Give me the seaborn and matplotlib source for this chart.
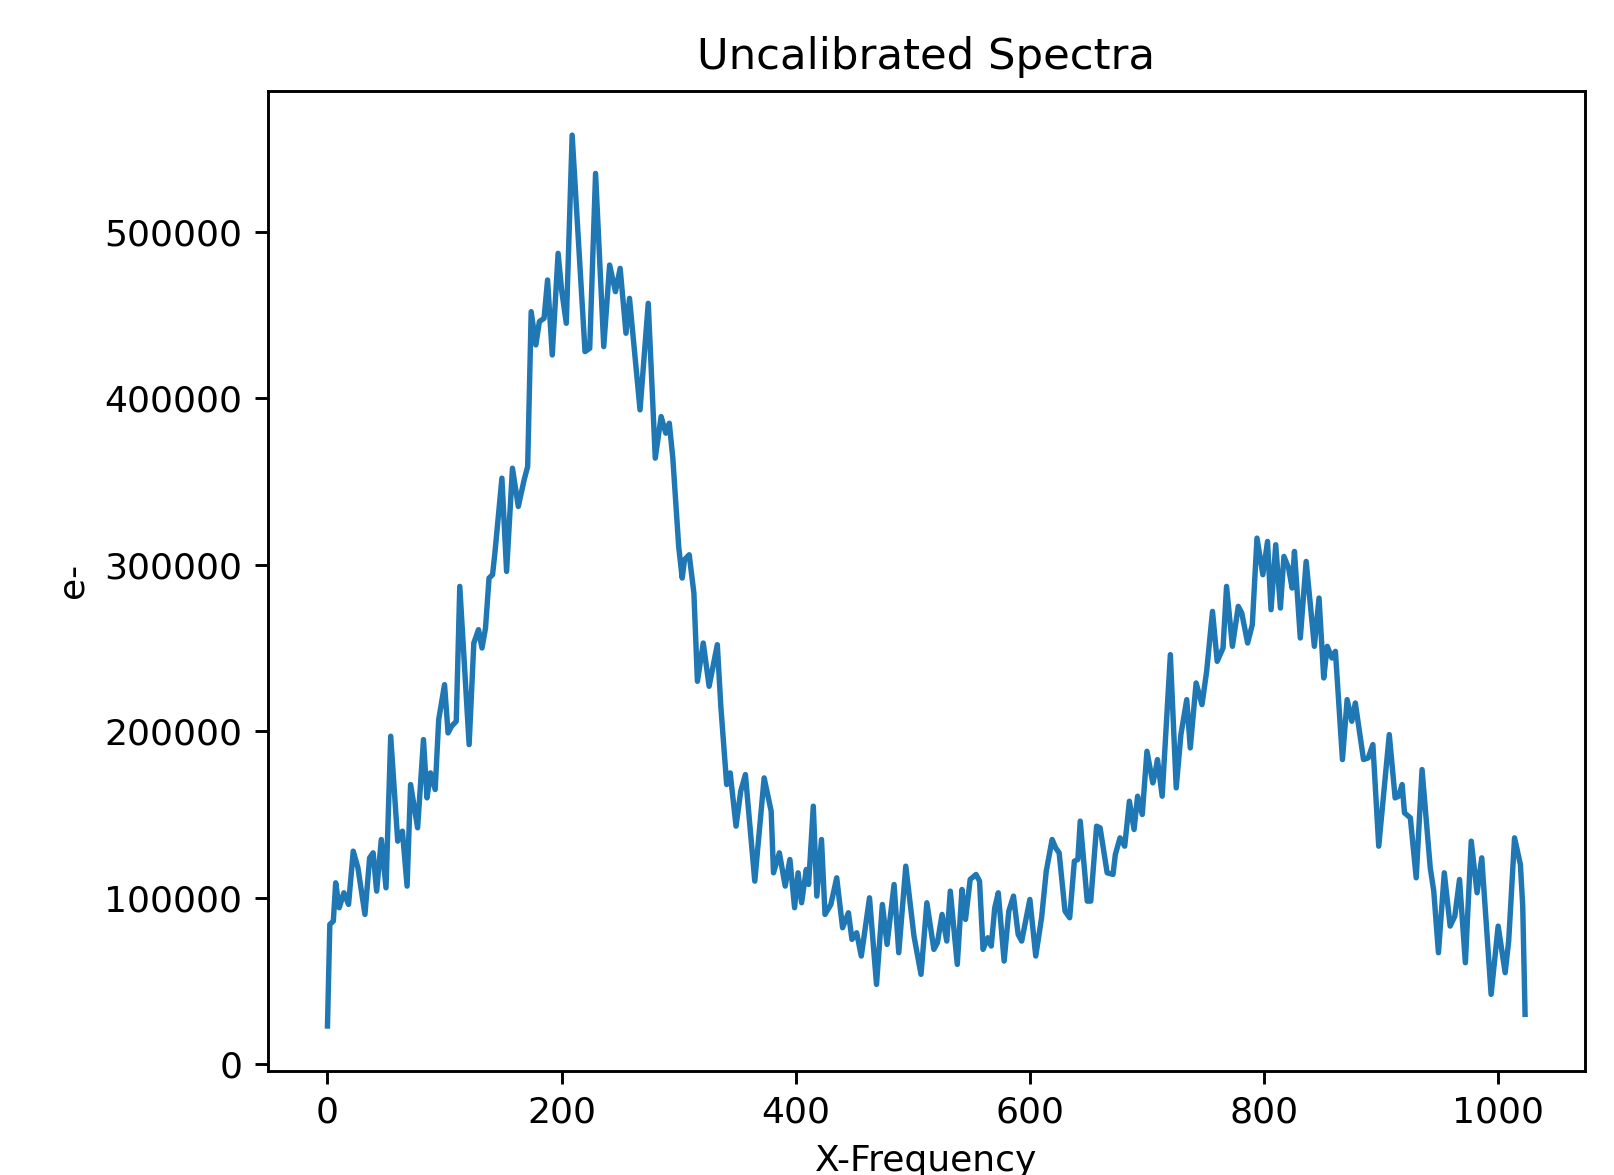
import matplotlib
matplotlib.use("Agg")
import matplotlib.pyplot as plt
import seaborn as sns
import pandas as pd

title = "Uncalibrated Spectra"
x_label = "X-Frequency"
y_label = "e-"

freq = [0, 2, 5, 7, 10, 14, 18, 22, 26, 32, 36, 39, 42, 46, 50, 54, 60, 64, 68, 71,
        77, 82, 85, 88, 92, 95, 100, 103, 106, 110, 113, 121, 125, 129, 132, 135, 138, 141, 143, 149,
        153, 158, 163, 168, 171, 174, 178, 181, 185, 188, 192, 197, 200, 204, 209, 220, 224, 229, 236, 241,
        246, 250, 255, 258, 267, 274, 280, 285, 289, 292, 295, 300, 303, 305, 309, 313, 316, 321, 326, 333,
        336, 341, 344, 349, 353, 357, 365, 373, 379, 381, 386, 391, 395, 399, 402, 405, 409, 411, 415, 418,
        422, 425, 430, 435, 440, 445, 448, 452, 456, 463, 469, 474, 478, 484, 488, 494, 501, 507, 512, 518,
        521, 525, 529, 532, 538, 542, 545, 549, 554, 557, 560, 564, 567, 570, 573, 578, 582, 586, 590, 593,
        600, 605, 610, 614, 619, 622, 625, 630, 634, 638, 641, 643, 649, 652, 657, 660, 666, 671, 673, 677,
        681, 685, 689, 692, 696, 700, 705, 707, 709, 713, 720, 725, 729, 734, 737, 742, 747, 751, 756, 760,
        765, 768, 773, 778, 781, 786, 790, 794, 799, 803, 806, 810, 814, 817, 821, 824, 826, 831, 836, 843,
        847, 851, 854, 858, 861, 867, 871, 875, 878, 885, 889, 893, 898, 907, 912, 915, 918, 920, 925, 930,
        935, 942, 945, 949, 954, 959, 963, 967, 972, 977, 982, 986, 994, 1000, 1006, 1009, 1014, 1019, 1021, 1023]

counts = [23000, 84000, 86000, 109000, 94000, 103000, 96000, 128000, 118000, 90000, 124000, 127000, 104000, 135000, 106000, 197000, 134000, 140000, 107000, 168000,
          142000, 195000, 160000, 175000, 165000, 207000, 228000, 199000, 203000, 206000, 287000, 192000, 253000, 261000, 250000, 262000, 292000, 294000, 307000, 352000,
          296000, 358000, 335000, 351000, 359000, 452000, 432000, 446000, 448000, 471000, 426000, 487000, 465000, 445000, 558000, 428000, 430000, 535000, 431000, 480000,
          464000, 478000, 439000, 460000, 393000, 457000, 364000, 389000, 379000, 385000, 364000, 311000, 292000, 303000, 306000, 283000, 230000, 253000, 227000, 252000,
          215000, 168000, 175000, 143000, 164000, 174000, 110000, 172000, 152000, 115000, 127000, 107000, 123000, 94000, 115000, 97000, 117000, 108000, 155000, 101000,
          135000, 90000, 96000, 112000, 82000, 91000, 75000, 79000, 65000, 100000, 48000, 96000, 72000, 108000, 67000, 119000, 77000, 54000, 97000, 69000,
          73000, 90000, 74000, 104000, 60000, 105000, 87000, 111000, 114000, 110000, 69000, 76000, 71000, 94000, 103000, 62000, 92000, 101000, 78000, 74000,
          99000, 65000, 88000, 116000, 135000, 130000, 127000, 92000, 88000, 122000, 123000, 146000, 98000, 98000, 143000, 142000, 115000, 114000, 126000, 136000,
          131000, 158000, 141000, 161000, 150000, 188000, 169000, 175000, 183000, 161000, 246000, 166000, 198000, 219000, 190000, 229000, 216000, 236000, 272000, 242000,
          250000, 287000, 251000, 275000, 271000, 253000, 264000, 316000, 294000, 314000, 273000, 312000, 274000, 305000, 298000, 286000, 308000, 256000, 302000, 251000,
          280000, 232000, 251000, 244000, 248000, 183000, 219000, 206000, 217000, 183000, 184000, 192000, 131000, 198000, 160000, 161000, 168000, 151000, 148000, 112000,
          177000, 118000, 104000, 67000, 115000, 83000, 89000, 111000, 61000, 134000, 103000, 124000, 42000, 83000, 55000, 74000, 136000, 120000, 95000, 30000]

df = pd.DataFrame({"freq": freq, "counts": counts})

DPI = 260
fig = plt.figure(figsize=(1614 / DPI, 1175 / DPI), dpi=DPI)
ax = fig.add_axes([0.1658, 0.0889, 0.982 - 0.1658, 0.9229 - 0.0889])
sns.lineplot(data=df, x="freq", y="counts", ax=ax, color="#1f77b4", linewidth=1.5)
ax.set_title(title)
ax.set_xlabel(x_label)
ax.set_ylabel(y_label)
ax.set_xticks([0, 200, 400, 600, 800, 1000])
ax.set_yticks([0, 100000, 200000, 300000, 400000, 500000])
ax.ticklabel_format(axis="y", style="plain")
fig.savefig("out.png", dpi=DPI)
